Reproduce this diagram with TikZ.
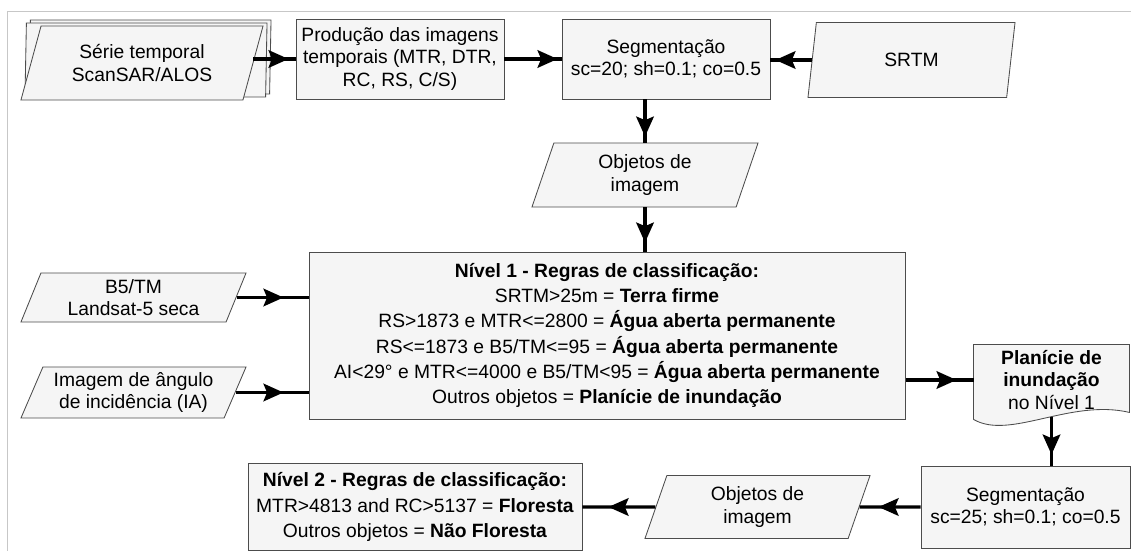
\documentclass[tikz,border=0pt]{standalone}
\usepackage{fontspec}
\setmainfont{Liberation Sans}
\usepackage{tikz}
\usetikzlibrary{positioning,arrows.meta,shapes.geometric,decorations.markings,backgrounds}
\newcommand\boxfont{\fontsize{13.7pt}{15.8pt}\selectfont}
\newcommand\rulefont{\fontsize{13.7pt}{18pt}\selectfont}
\tikzset{
  box/.style={rectangle, draw=black!70, fill=black!4, line width=0.6pt, align=center, font=\boxfont, inner sep=2pt},
  data/.style={trapezium, trapezium left angle=63, trapezium right angle=117, trapezium stretches body,
    draw=black!70, fill=black!4, line width=0.6pt, align=center, font=\boxfont, inner sep=1pt},
  rules/.style={box, font=\rulefont},
  docum/.style={draw=black!70, fill=black!4, line width=0.6pt},
  flow/.style={draw=black, line width=2.2pt, postaction={decorate},
    decoration={markings, mark=at position -#1 with {\arrow{Stealth[length=0.5cm, width=0.44cm, inset=0.09cm]}}}},
  flow/.default=0.15cm,
  frame/.style={draw=black!22, line width=0.6pt}
}
\begin{document}
\begin{tikzpicture}[x=0.025cm, y=-0.025cm]
  \useasboundingbox (0,0) rectangle (1131,551);
  \draw[frame] (7,551) -- (7,11) -- (1131,11);
  % top row
  \foreach \i in {2,1}
    \node[data, minimum width=6.05cm, minimum height=1.85cm] (ser\i) at ({142+4*\i},{63-3*\i}) {};
  \node[data, minimum width=6.05cm, minimum height=1.85cm] (ser) at (142,63) {Série temporal\\ScanSAR/ALOS};
  \node[box, minimum width=5.2cm, minimum height=2cm] (prod) at (400,59) {Produção das imagens\\temporais (MTR, DTR,\\RC, RS, C/S)};
  \node[box, minimum width=5.2cm, minimum height=2cm] (seg1) at (666,59) {Segmentação\\sc=20; sh=0.1; co=0.5};
  \node[data, minimum width=5.175cm, minimum height=1.875cm] (srtm) at (911.5,60) {SRTM};
  \node[data, minimum width=5.65cm, minimum height=1.6cm] (obj1) at (645,175) {Objetos de\\imagem};
  % level 1
  \node[rules, minimum width=14.9cm, minimum height=4.175cm] (niv1) at (607,335.5) {\textbf{Nível 1 - Regras de classificação:}\\
    SRTM>25m = \textbf{Terra firme}\\
    RS>1873 e MTR<=2800 = \textbf{Água aberta permanente}\\
    RS<=1873 e B5/TM<=95 = \textbf{Água aberta permanente}\\
    AI<29° e MTR<=4000 e B5/TM<95 = \textbf{Água aberta permanente}\\
    Outros objetos = \textbf{Planície de inundação}};
  \node[data, minimum width=5.625cm, minimum height=1.225cm] (b5) at (133.5,297.5) {B5/TM\\Landsat-5 seca};
  \node[data, minimum width=5.625cm, minimum height=1.275cm] (ia) at (133.5,392.5) {Imagem de ângulo\\de incidência (IA)};
  \node[box, draw=none, fill=none, minimum width=3.875cm, minimum height=1.75cm] (plan) at (1051.5,380) {\textbf{Planície de}\\\textbf{inundação}\\no Nível 1};
  \begin{scope}[on background layer]
    \draw[docum] (plan.north west) -- (plan.north east) -- ([shift={(0,-3)}]plan.south east)
      .. controls +(-59,-14) and +(36,21) .. ([shift={(0,4)}]plan.south west) coordinate[pos=0.45] (plancut) -- cycle;
  \end{scope}
  % level 2
  \node[box, minimum width=5.225cm, minimum height=2.05cm] (seg2) at (1025.5,507) {Segmentação\\sc=25; sh=0.1; co=0.5};
  \node[data, minimum width=5.625cm, minimum height=1.575cm] (obj2) at (757.5,507) {Objetos de\\imagem};
  \node[rules, minimum width=8.35cm, minimum height=2.175cm] (niv2) at (415,507) {\textbf{Nível 2 - Regras de classificação:}\\
    MTR>4813 and RC>5137 = \textbf{Floresta}\\
    Outros objetos = \textbf{Não Floresta}};
  % connectors
  \draw[flow=0.175cm] (prod.west -| ser.east) -- (prod.west);
  \draw[flow=0.1cm] (prod) -- (seg1);
  \draw[flow=0.125cm] (srtm.west) -- (srtm.west -| seg1.east);
  \draw[flow=0.15cm] (seg1.south -| obj1.north) -- (obj1.north);
  \draw[flow=0.225cm] (obj1.south) -- (obj1.south |- niv1.north);
  \draw[flow=0.625cm] (b5.east) -- (b5.east -| niv1.west);
  \draw[flow=0.625cm] (ia.east) -- (ia.east -| niv1.west);
  \draw[flow=0.425cm] (plan.west -| niv1.east) -- (plan.west);
  \draw[flow=0.275cm] (plan.south |- plancut) -- (plan.south |- seg2.north);
  \draw[flow=0.475cm] (seg2) -- (obj2);
  \draw[flow=0.65cm] (obj2) -- (niv2);
\end{tikzpicture}
\end{document}
